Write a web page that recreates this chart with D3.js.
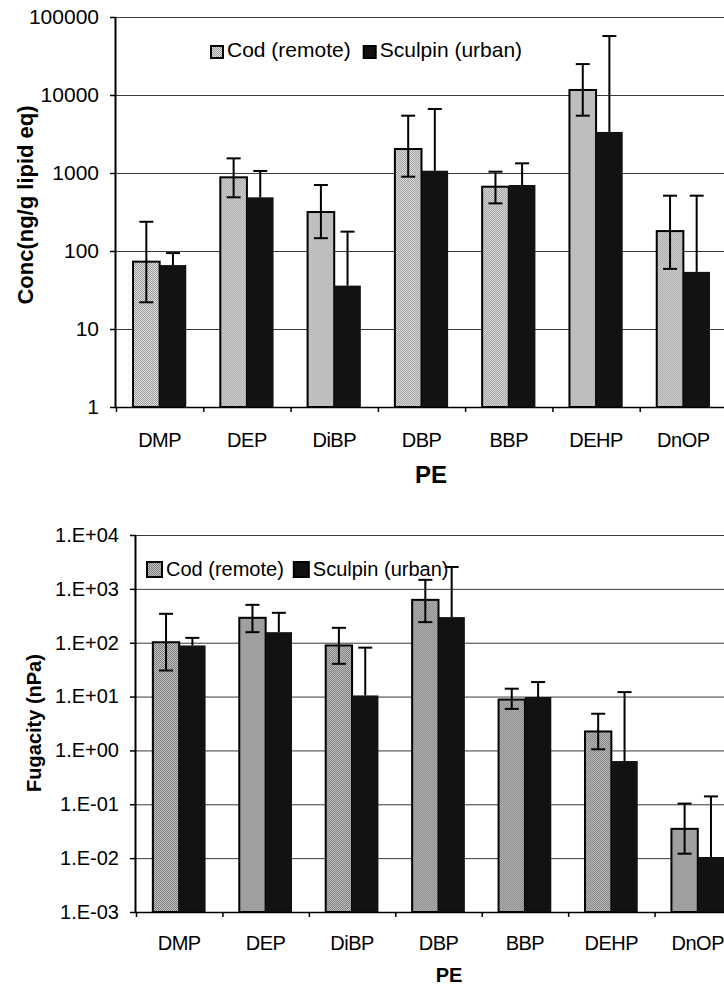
<!DOCTYPE html>
<html>
<head>
<meta charset="utf-8">
<script src="https://cdn.jsdelivr.net/npm/d3@7"></script>
<style>
  body { margin: 0; background: #fff; }
  svg { display: block; font-family: "Liberation Sans", Arial, sans-serif; }
</style>
</head>
<body>
<div id="root"></div>
<script>
// categorie (ftalati)
const categories = ["DMP", "DEP", "DiBP", "DBP", "BBP", "DEHP", "DnOP"];
const seriesNames = ["Cod (remote)", "Sculpin (urban)"];

// grafico in alto: concentrazione (ng/g lipid eq)
const concCod = [73, 880, 316, 2030, 667, 11600, 180];
const concCodLow = [22, 488, 146, 897, 408, 5430, 59];
const concCodHigh = [237, 1540, 702, 5430, 1040, 24900, 512];
const concSculpin = [66, 488, 36, 1070, 702, 3360, 54];
const concSculpinHigh = [94, 1060, 177, 6610, 1330, 57000, 512];
const concTicks = [1, 10, 100, 1000, 10000, 100000];
const concTickLabels = ["1", "10", "100", "1000", "10000", "100000"];

// grafico in basso: fugacita (nPa)
const fugCod = [102, 290, 89, 625, 8.8, 2.25, 0.035];
const fugCodLow = [30.5, 157, 40.6, 241, 5.9, 1.05, 0.0121];
const fugCodHigh = [344, 505, 189, 1470, 14, 4.8, 0.103];
const fugSculpin = [89, 157, 10.5, 299, 9.8, 0.635, 0.0105];
const fugSculpinHigh = [123, 359, 81, 2550, 18.6, 12.1, 0.14];
const fugTicks = [1e-3, 1e-2, 1e-1, 1, 10, 100, 1000, 10000];
const fugTickLabels = ["1.E-03", "1.E-02", "1.E-01", "1.E+00", "1.E+01", "1.E+02", "1.E+03", "1.E+04"];

const svg = d3.select("#root").append("svg")
    .attr("width", 724)
    .attr("height", 986);

svg.append("rect").attr("width", 724).attr("height", 986).attr("fill", "#fff");

// pattern puntinato (scacchiera) per le barre del merluzzo
const defs = svg.append("defs");
function stipple(id, light, dark) {
    const p = defs.append("pattern")
        .attr("id", id)
        .attr("width", 2).attr("height", 2)
        .attr("patternUnits", "userSpaceOnUse");
    p.append("rect").attr("width", 2).attr("height", 2).attr("fill", light);
    p.append("rect").attr("width", 1).attr("height", 1).attr("fill", dark);
    p.append("rect").attr("x", 1).attr("y", 1).attr("width", 1).attr("height", 1).attr("fill", dark);
}
stipple("codLight", "#e2e2e2", "#9a9a9a");
stipple("codDark", "#c4c4c4", "#7a7a7a");

function drawPanel(cfg) {
    const g = svg.append("g");
    const x = d3.scaleBand().domain(categories).range([cfg.left, cfg.right]);
    const bw = x.bandwidth();
    const x1 = d3.scaleBand().domain(["cod", "sculpin"]).range([bw * 0.195, bw * 0.805]);
    const y = d3.scaleLog().domain(cfg.domain).range([cfg.bottom, cfg.top]);

    // griglia orizzontale
    g.append("g")
        .attr("transform", `translate(${cfg.left},0)`)
        .call(d3.axisLeft(y).tickValues(cfg.ticks).tickSize(-(cfg.right - cfg.left)).tickFormat(""))
        .call(a => a.select(".domain").remove())
        .call(a => a.selectAll("line").attr("stroke", "#3a3a3a").attr("stroke-width", 1));

    // legenda
    const leg = g.append("g").attr("font-size", cfg.legendFont);
    let lx = cfg.legendX;
    seriesNames.forEach((name, i) => {
        leg.append("rect")
            .attr("x", lx).attr("y", cfg.legendY - cfg.legendBox + 1)
            .attr("width", cfg.legendBox).attr("height", cfg.legendBox)
            .attr("fill", i === 0 ? `url(#${cfg.codFill})` : "#111")
            .attr("stroke", "#000").attr("stroke-width", 2);
        const t = leg.append("text")
            .attr("x", lx + cfg.legendBox + 4).attr("y", cfg.legendY)
            .text(name);
        lx += cfg.legendBox + 4 + t.node().getComputedTextLength() + cfg.legendGap;
    });

    // barre
    const groups = g.selectAll(".grp")
        .data(categories)
        .join("g")
        .attr("transform", d => `translate(${x(d)},0)`);

    groups.append("rect")
        .attr("x", x1("cod"))
        .attr("y", (d, i) => y(cfg.cod[i]))
        .attr("width", x1.bandwidth())
        .attr("height", (d, i) => cfg.bottom - y(cfg.cod[i]))
        .attr("fill", `url(#${cfg.codFill})`)
        .attr("stroke", "#000").attr("stroke-width", 2);

    groups.append("rect")
        .attr("x", x1("sculpin"))
        .attr("y", (d, i) => y(cfg.sculpin[i]))
        .attr("width", x1.bandwidth())
        .attr("height", (d, i) => cfg.bottom - y(cfg.sculpin[i]))
        .attr("fill", "#121212");

    // barre di errore
    const cap = 7;
    const cx = x1("cod") + x1.bandwidth() / 2;
    const sx = x1("sculpin") + x1.bandwidth() / 2;
    const eb = groups.append("g").attr("stroke", "#000").attr("stroke-width", 2);
    eb.append("line").attr("x1", cx).attr("x2", cx)
        .attr("y1", (d, i) => y(cfg.codLow[i])).attr("y2", (d, i) => y(cfg.codHigh[i]));
    eb.append("line").attr("x1", cx - cap).attr("x2", cx + cap)
        .attr("y1", (d, i) => y(cfg.codLow[i])).attr("y2", (d, i) => y(cfg.codLow[i]));
    eb.append("line").attr("x1", cx - cap).attr("x2", cx + cap)
        .attr("y1", (d, i) => y(cfg.codHigh[i])).attr("y2", (d, i) => y(cfg.codHigh[i]));
    eb.append("line").attr("x1", sx).attr("x2", sx)
        .attr("y1", (d, i) => y(cfg.sculpin[i])).attr("y2", (d, i) => y(cfg.sculpinHigh[i]));
    eb.append("line").attr("x1", sx - cap).attr("x2", sx + cap)
        .attr("y1", (d, i) => y(cfg.sculpinHigh[i])).attr("y2", (d, i) => y(cfg.sculpinHigh[i]));

    // asse y
    g.append("g")
        .attr("transform", `translate(${cfg.left},0)`)
        .call(d3.axisLeft(y).tickValues(cfg.ticks).tickSize(6).tickPadding(11)
            .tickFormat((d, i) => cfg.tickLabels[i]))
        .call(a => a.select(".domain").attr("stroke-width", 2).attr("d", `M-0.5,${cfg.top}V${cfg.bottom}`))
        .call(a => a.selectAll("line").attr("stroke-width", 1.5))
        .call(a => a.selectAll("text").attr("font-size", cfg.tickFont).attr("fill", "#000"));

    // asse x: tacche ai confini delle categorie
    const xb = d3.scaleLinear().domain([0, categories.length]).range([cfg.left, cfg.right]);
    g.append("g")
        .attr("transform", `translate(0,${cfg.bottom})`)
        .call(d3.axisBottom(xb).tickValues(d3.range(categories.length + 1)).tickSize(5).tickFormat(""))
        .call(a => a.select(".domain").attr("stroke-width", 1.5).attr("d", `M${cfg.left},0.5H${cfg.right}`))
        .call(a => a.selectAll("line").attr("stroke-width", 1.5));

    // etichette delle categorie
    g.append("g")
        .attr("transform", `translate(0,${cfg.bottom})`)
        .call(d3.axisBottom(x).tickSize(0).tickPadding(cfg.labelPad))
        .call(a => a.select(".domain").remove())
        .call(a => a.selectAll("text").attr("font-size", cfg.labelFont).attr("fill", "#000")
            .attr("letter-spacing", "-0.5px"));

    // titoli degli assi
    g.append("text")
        .attr("x", cfg.xTitleX).attr("y", cfg.xTitleY)
        .attr("text-anchor", "middle")
        .attr("font-weight", "bold").attr("font-size", cfg.xTitleFont)
        .text("PE");
    g.append("text")
        .attr("transform", `translate(${cfg.yTitleX},${cfg.yTitleY}) rotate(-90)`)
        .attr("text-anchor", "middle")
        .attr("font-weight", "bold").attr("font-size", cfg.yTitleFont)
        .text(cfg.yTitle);
}

drawPanel({
    left: 116, right: 727, top: 17, bottom: 407,
    domain: [1, 100000], ticks: concTicks, tickLabels: concTickLabels,
    cod: concCod, codLow: concCodLow, codHigh: concCodHigh,
    sculpin: concSculpin, sculpinHigh: concSculpinHigh,
    codFill: "codLight",
    tickFont: 21, labelFont: 20, labelPad: 26,
    legendX: 211, legendY: 57, legendBox: 12, legendFont: 21, legendGap: 13,
    xTitleX: 431, xTitleY: 483, xTitleFont: 24,
    yTitle: "Conc(ng/g lipid eq)", yTitleX: 33, yTitleY: 205, yTitleFont: 22
});

drawPanel({
    left: 136, right: 741, top: 535, bottom: 912,
    domain: [1e-3, 1e4], ticks: fugTicks, tickLabels: fugTickLabels,
    cod: fugCod, codLow: fugCodLow, codHigh: fugCodHigh,
    sculpin: fugSculpin, sculpinHigh: fugSculpinHigh,
    codFill: "codDark",
    tickFont: 20, labelFont: 20, labelPad: 24,
    legendX: 147, legendY: 576, legendBox: 15, legendFont: 20, legendGap: 10,
    xTitleX: 449, xTitleY: 982, xTitleFont: 20,
    yTitle: "Fugacity (nPa)", yTitleX: 41, yTitleY: 723, yTitleFont: 20
});
</script>
</body>
</html>
